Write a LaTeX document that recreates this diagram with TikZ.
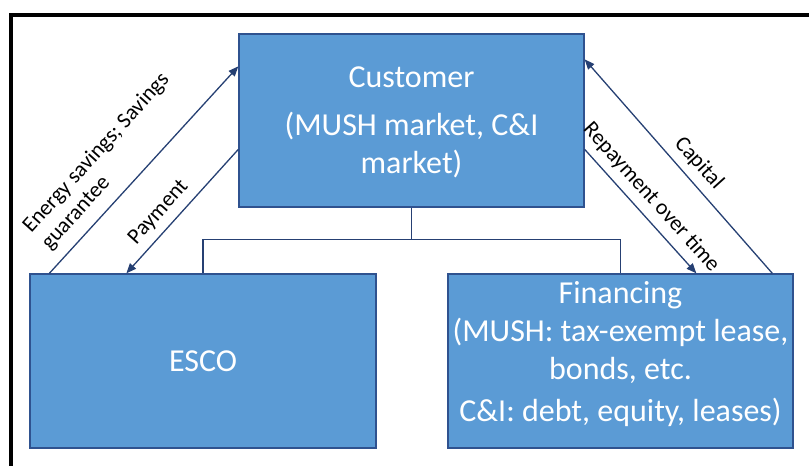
\documentclass[tikz,border=0pt]{standalone}
\usepackage{fontspec}
\setmainfont{Carlito}
\usetikzlibrary{arrows.meta,calc}
\definecolor{boxfill}{RGB}{91,155,213}
\definecolor{boxline}{RGB}{47,82,143}
\definecolor{arrowcol}{RGB}{38,64,115}
\begin{document}
\begin{tikzpicture}[x=1pt,y=-1pt,
  box/.style={draw=boxline, line width=1.3pt, fill=boxfill, text=white,
    font=\fontsize{32}{38}\selectfont, align=center, inner sep=0pt},
  boxtext/.style={text=white, font=\fontsize{32}{38}\selectfont, align=center, inner sep=0pt},
  flow/.style={draw=arrowcol, line width=1.3pt, -{Triangle[length=10pt,width=8pt]}},
  link/.style={draw=arrowcol, line width=1.3pt},
  lbl/.style={font=\fontsize{22}{25}\selectfont, align=center, inner sep=2pt, outer sep=6pt, anchor=south}]
\useasboundingbox (0,0) rectangle (809,466);
\draw[line width=4pt] (11,475) -- (11,14.5) -- (815,14.5);

\node[box, minimum width=345pt, minimum height=173pt] (cust) at (411.5,120.5) {};
\node[boxtext] (custtext) at (411.5,122.5)
  {Customer\\[10pt](MUSH market, C\&I\\market)};
\node[box, minimum width=346pt, minimum height=174pt] (esco) at (203,361) {ESCO};
\node[box, minimum width=345pt, minimum height=174pt] (fin) at (620.5,361) {};
\node[boxtext] (fintext) at (620.5,354)
  {Financing\\(MUSH: tax-exempt lease,\\bonds, etc.\\[4pt]C\&I: debt, equity, leases)};

\draw[link] (cust.south) -- ++(0,32) coordinate (hub) -| (esco.north);
\draw[link] (hub) -| (fin.north);

\draw[flow] ($(esco.north west)+(20,0)$) -- ($(cust.north west)+(0,33)$);
\node[lbl, align=left, outer sep=0pt, rotate=48, anchor=south west] (elbl) at (53,256)
  {Energy savings; Savings\\guarantee};
\draw[flow] ($(cust.north west)+(0,116)$) -- ($(esco.north west)+(97,0)$)
  node[lbl, pos=0.6, rotate=48] (plbl) {Payment};
\draw[flow] ($(cust.north east)+(0,116)$) -- ($(fin.north west)+(249,0)$)
  node[lbl, pos=0.48, rotate=-48] (rlbl) {Repayment over time};
\draw[flow] ($(fin.north west)+(325,0)$) -- ($(cust.north east)+(0,26)$)
  node[lbl, pos=0.46, rotate=-48] (clbl) {Capital};
\end{tikzpicture}
\end{document}
